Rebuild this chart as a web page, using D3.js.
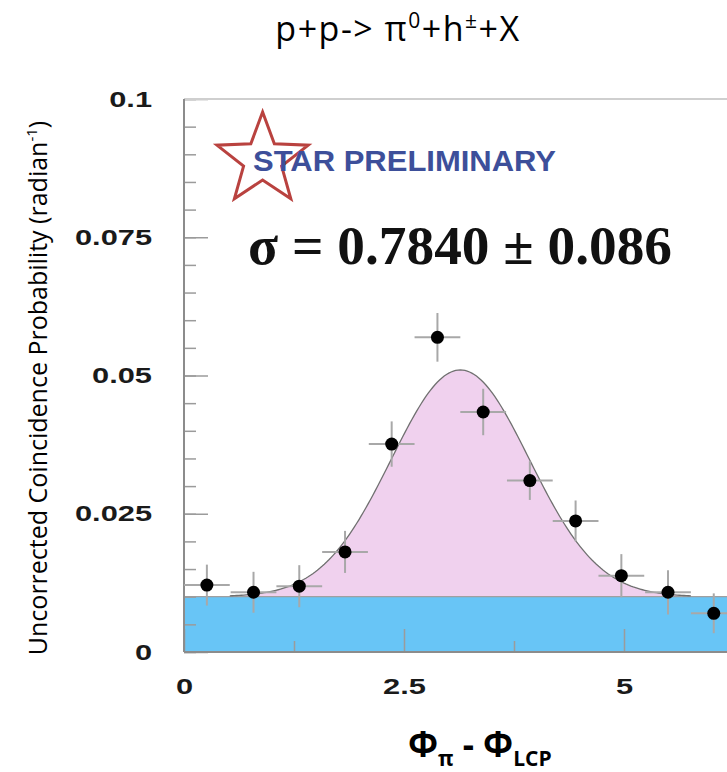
<!DOCTYPE html>
<html>
<head>
<meta charset="utf-8">
<script src="https://cdn.jsdelivr.net/npm/d3@7"></script>
<style>
  body { margin: 0; background: #ffffff; }
  svg { display: block; }
</style>
</head>
<body>
<svg id="chart" width="727" height="772"></svg>
<script>
// Azimuthal correlation between pi0 and leading charged particle (12 bins over 0..2pi)
const binCenters = [0.26, 0.79, 1.31, 1.83, 2.36, 2.88, 3.40, 3.93, 4.45, 4.97, 5.50, 6.02];
const probValues = [0.0121, 0.0108, 0.0119, 0.0181, 0.0376, 0.0569, 0.0434, 0.0310, 0.0237, 0.0138, 0.0108, 0.0070];
const probErrors = [0.0037, 0.0037, 0.0038, 0.0038, 0.0041, 0.0044, 0.0042, 0.0035, 0.0037, 0.0039, 0.0040, 0.0036];
const binHalfWidth = 0.26;

// Gaussian + constant fit
const fitMean = 3.14;
const fitSigma = 0.784;
const fitAmplitude = 0.041;
const fitBaseline = 0.01;
const fitRange = [0.52, 5.76];

const yMajorTicks = [0, 0.025, 0.05, 0.075, 0.1];
const yTickLabels = ["0", "0.025", "0.05", "0.075", "0.1"];
const xMajorTicks = [0, 2.5, 5];
const xTickLabels = ["0", "2.5", "5"];

const svg = d3.select("#chart");

const x = d3.scaleLinear().domain([0, 2 * Math.PI]).range([184, 184 + 88 * 2 * Math.PI]);
const y = d3.scaleLinear().domain([0, 0.1]).range([652, 99]);

const fitFn = v => fitBaseline + fitAmplitude * Math.exp(-((v - fitMean) ** 2) / (2 * fitSigma * fitSigma));

// constant background band
svg.append("rect")
  .attr("x", x(0)).attr("y", y(fitBaseline))
  .attr("width", x(2 * Math.PI) - x(0))
  .attr("height", y(0) - y(fitBaseline))
  .attr("fill", "#68c5f6");

// gaussian part above background
const samples = d3.range(0, 201).map(i => fitRange[0] + (fitRange[1] - fitRange[0]) * i / 200);
svg.append("path")
  .datum(samples)
  .attr("d", d3.area().x(d => x(d)).y0(y(fitBaseline)).y1(d => y(fitFn(d))))
  .attr("fill", "#f0d1ee");

svg.append("line")
  .attr("x1", x(0)).attr("x2", x(2 * Math.PI))
  .attr("y1", y(fitBaseline)).attr("y2", y(fitBaseline))
  .attr("stroke", "#a0a0a0").attr("stroke-width", 1.2);

svg.append("path")
  .datum(samples)
  .attr("d", d3.line().x(d => x(d)).y(d => y(fitFn(d))))
  .attr("fill", "none")
  .attr("stroke", "#707070")
  .attr("stroke-width", 1.3);

// axes (ticks point inward)
function styleAxis(g) {
  g.select(".domain").remove();
  g.selectAll(".tick line").attr("stroke", "#9b9b9b").attr("stroke-width", 1.5);
  g.selectAll(".tick text")
    .attr("font-family", "'Liberation Sans', Arial, sans-serif")
    .attr("font-weight", "bold")
    .attr("font-size", 22)
    .attr("fill", "#1a1a1a");
}

const yMinor = svg.append("g").attr("transform", `translate(${x(0)},0)`)
  .call(d3.axisLeft(y).ticks(20).tickSizeInner(-12).tickSizeOuter(0).tickFormat(""));
styleAxis(yMinor);

const yAxis = svg.append("g").attr("transform", `translate(${x(0)},0)`)
  .call(d3.axisLeft(y).tickValues(yMajorTicks).tickSizeInner(-24).tickSizeOuter(0)
    .tickPadding(32).tickFormat((d, i) => yTickLabels[i]));
styleAxis(yAxis);
yAxis.selectAll(".tick text").attr("x", -32 / 1.4).attr("transform", "scale(1.4,1)");

const xMinor = svg.append("g").attr("transform", `translate(0,${y(0)})`)
  .call(d3.axisBottom(x).tickValues([1.25, 3.75, 6.25]).tickSizeInner(-11).tickSizeOuter(0).tickFormat(""));
styleAxis(xMinor);

const xAxis = svg.append("g").attr("transform", `translate(0,${y(0)})`)
  .call(d3.axisBottom(x).tickValues(xMajorTicks).tickSizeInner(-23).tickSizeOuter(0)
    .tickPadding(26).tickFormat((d, i) => xTickLabels[i]));
styleAxis(xAxis);
xAxis.selectAll(".tick text").attr("transform", "scale(1.4,1)");

// frame
svg.append("line").attr("x1", x(0)).attr("x2", 727).attr("y1", y(0.1)).attr("y2", y(0.1))
  .attr("stroke", "#cfcfcf").attr("stroke-width", 2);
svg.append("line").attr("x1", x(0)).attr("x2", 727).attr("y1", y(0)).attr("y2", y(0))
  .attr("stroke", "#8c8c8c").attr("stroke-width", 2);
svg.append("line").attr("x1", x(0)).attr("x2", x(0)).attr("y1", y(0.1)).attr("y2", y(0))
  .attr("stroke", "#8c8c8c").attr("stroke-width", 2);

// data points with error bars
const pts = binCenters.map((c, i) => ({ c, v: probValues[i], e: probErrors[i] }));
const pg = svg.append("g");
pg.selectAll("line.ex").data(pts).join("line").attr("class", "ex")
  .attr("x1", d => x(d.c - binHalfWidth)).attr("x2", d => x(d.c + binHalfWidth))
  .attr("y1", d => y(d.v)).attr("y2", d => y(d.v))
  .attr("stroke", "#a8a8a8").attr("stroke-width", 2);
pg.selectAll("line.ey").data(pts).join("line").attr("class", "ey")
  .attr("x1", d => x(d.c)).attr("x2", d => x(d.c))
  .attr("y1", d => y(d.v - d.e)).attr("y2", d => y(d.v + d.e))
  .attr("stroke", "#a8a8a8").attr("stroke-width", 2);
pg.selectAll("circle").data(pts).join("circle")
  .attr("cx", d => x(d.c)).attr("cy", d => y(d.v)).attr("r", 6.5)
  .attr("fill", "#000");

// STAR preliminary badge
const starCx = 262.6, starCy = 160, starR = 48, starr = 20;
const starPts = d3.range(10).map(k => {
  const a = -Math.PI / 2 + k * Math.PI / 5;
  const r = k % 2 === 0 ? starR : starr;
  return [starCx + r * Math.cos(a), starCy + r * Math.sin(a)];
});
svg.append("path")
  .attr("d", d3.line()(starPts) + "Z")
  .attr("fill", "none")
  .attr("stroke", "#b9423f")
  .attr("stroke-width", 3)
  .attr("stroke-linejoin", "miter");

svg.append("text")
  .attr("x", 253).attr("y", 171)
  .attr("font-family", "'Liberation Sans', Arial, sans-serif")
  .attr("font-weight", "bold").attr("font-size", 29)
  .attr("fill", "#3d4f9a")
  .attr("textLength", 303).attr("lengthAdjust", "spacingAndGlyphs")
  .text("STAR PRELIMINARY");

svg.append("text")
  .attr("x", 248).attr("y", 264)
  .attr("font-family", "'Liberation Serif', 'Times New Roman', serif")
  .attr("font-weight", "bold").attr("font-size", 55)
  .attr("fill", "#111")
  .attr("textLength", 424).attr("lengthAdjust", "spacingAndGlyphs")
  .text("σ = 0.7840 ± 0.086");

// title
const title = svg.append("text")
  .attr("x", 398).attr("y", 41)
  .attr("text-anchor", "middle")
  .attr("font-family", "'Open Sans', 'Noto Sans', sans-serif")
  .attr("font-size", 34)
  .attr("letter-spacing", 1.5)
  .attr("fill", "#000");
title.append("tspan").text("p+p-> π");
title.append("tspan").attr("dy", -13).attr("font-size", 21).text("0");
title.append("tspan").attr("dy", 13).text("+h");
title.append("tspan").attr("dy", -13).attr("font-size", 21).text("±");
title.append("tspan").attr("dy", 13).text("+X");

// y axis title
const yTitle = svg.append("text")
  .attr("transform", "translate(47,388) rotate(-90)")
  .attr("text-anchor", "middle")
  .attr("font-family", "'Open Sans', 'Noto Sans', sans-serif")
  .attr("font-size", 25)
  .attr("fill", "#000");
yTitle.append("tspan").text("Uncorrected Coincidence Probability (radian");
yTitle.append("tspan").attr("dy", -10).attr("font-size", 15).text("-1");
yTitle.append("tspan").attr("dy", 10).text(")");

// x axis title
const xTitle = svg.append("text")
  .attr("x", 408).attr("y", 757)
  .attr("font-family", "'Open Sans', 'Noto Sans', sans-serif")
  .attr("font-weight", "bold")
  .attr("font-size", 35)
  .attr("fill", "#000");
xTitle.append("tspan").text("Φ");
xTitle.append("tspan").attr("dy", 9).attr("font-size", 21).text("π");
xTitle.append("tspan").attr("dy", -9).text(" - Φ");
xTitle.append("tspan").attr("dy", 9).attr("font-size", 21).text("LCP");
</script>
</body>
</html>
